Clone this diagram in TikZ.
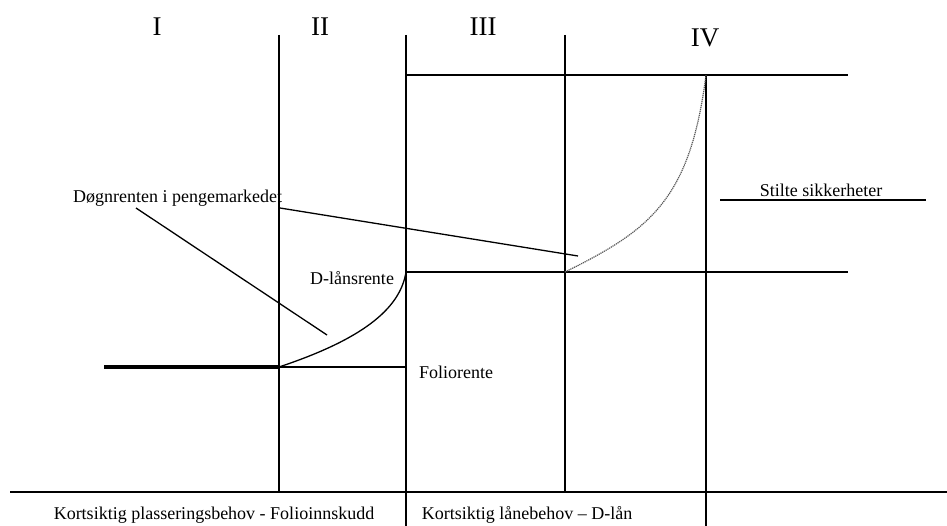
\documentclass[tikz,border=0pt]{standalone}
\usepackage{fontspec}
\setmainfont{Liberation Serif}
\begin{document}
\begin{tikzpicture}[x=1pt,y=-1pt,
  axis/.style={line width=1.8pt},
  thin/.style={line width=1.3pt},
  lbl/.style={inner sep=0pt,font=\fontsize{18}{20}\selectfont},
  roman/.style={inner sep=0pt,font=\fontsize{27}{30}\selectfont},
  dottedcurve/.style={line width=1.2pt,gray!70!black,dash pattern=on 1.2pt off 0.8pt}]
\useasboundingbox (0,0) rectangle (947,526);
% roman numerals
\node[roman] (r1) at (157,27) {I};
\node[roman] (r2) at (320,27) {II};
\node[roman] (r3) at (483,27) {III};
\node[roman] (r4) at (705,38) {IV};
% grid coordinates
\coordinate (a1) at (279,35); \coordinate (a2) at (279,492);
\coordinate (b1) at (406,35); \coordinate (b2) at (406,526);
\coordinate (c1) at (565,35); \coordinate (c2) at (565,492);
\coordinate (d1) at (706,75); \coordinate (d2) at (706,526);
\coordinate (t1) at (406,75); \coordinate (t2) at (848,75);
\coordinate (m1) at (406,272); \coordinate (m2) at (848,272);
\coordinate (m0) at (565,272);
\coordinate (f0) at (104,367); \coordinate (f1) at (279,367); \coordinate (f2) at (406,367);
\coordinate (g1) at (10,492); \coordinate (g2) at (947,492);
% lines
\draw[axis] (a1) -- (a2);
\draw[axis] (b1) -- (b2);
\draw[axis] (c1) -- (c2);
\draw[axis] (d1) -- (d2);
\draw[axis] (t1) -- (t2);
\draw[axis] (m1) -- (m2);
\draw[axis] (f1) -- (f2);
\draw[line width=4pt] (f0) -- (f1);
\draw[axis] (g1) -- (g2);
% curves
\draw[thin] (f1) .. controls (360,340) and (400,310) .. (m1);
\draw[dottedcurve] (m0) .. controls (650,230) and (690,200) .. (d1);
% labels
\node[lbl,anchor=west] (dogn) at (73,198) {Døgnrenten i pengemarkedet};
\coordinate (dA) at (136,208); \coordinate (dAe) at (327,335);
\coordinate (dB) at (280,208); \coordinate (dBe) at (578,256);
\draw[thin] (dA) -- (dAe);
\draw[thin] (dB) -- (dBe);
\node[lbl] (dlr) at (352,278) {D-lånsrente};
\node[lbl] (fol) at (456,372) {Foliorente};
\node[lbl] (stil) at (821,190) {Stilte sikkerheter};
\coordinate (s1) at (720,200); \coordinate (s2) at (926,200);
\draw[axis] (s1) -- (s2);
\node[lbl] (k1) at (214,515) {Kortsiktig plasseringsbehov - Folioinnskudd};
\node[lbl] (k2) at (527,515) {Kortsiktig lånebehov – D-lån};
\end{tikzpicture}
\end{document}
